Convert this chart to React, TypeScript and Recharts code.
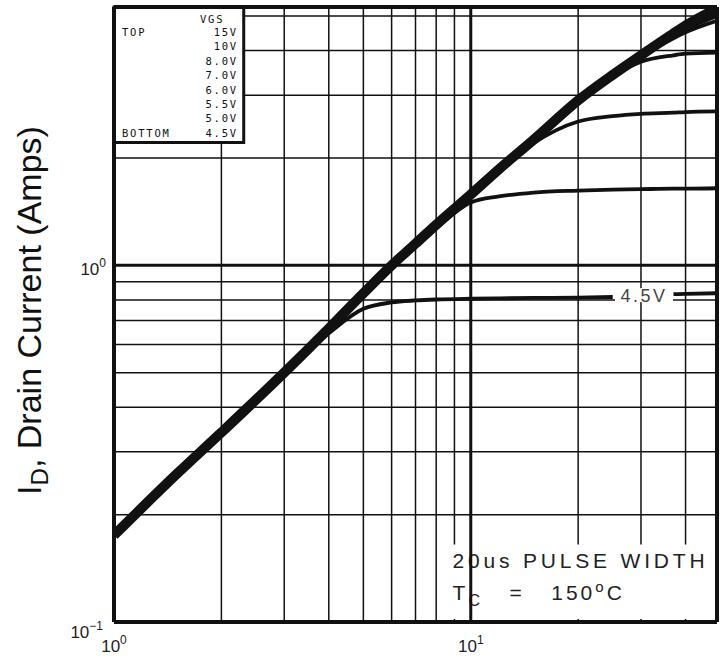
import { LineChart, Line, XAxis, YAxis, CartesianGrid, ReferenceArea, ReferenceLine, ReferenceDot } from 'recharts'

// drain-source voltage (V) where the curves were read
const vds = [1, 1.5, 2, 3, 4, 5, 6, 7, 8, 10, 12, 15, 20, 25, 30, 37, 40, 49]

// drain current (A) per gate voltage
const id15 = [0.175, 0.26, 0.34, 0.5, 0.665, 0.835, 1.0, 1.15, 1.3, 1.58, 1.86, 2.25, 2.9, 3.42, 3.88, 4.47, 4.7, 5.25]
const id10 = [0.175, 0.26, 0.34, 0.5, 0.665, 0.835, 1.0, 1.15, 1.3, 1.58, 1.86, 2.25, 2.9, 3.41, 3.87, 4.45, 4.66, 5.2]
const id8 = [0.175, 0.26, 0.34, 0.5, 0.665, 0.835, 1.0, 1.15, 1.3, 1.58, 1.86, 2.25, 2.89, 3.4, 3.86, 4.4, 4.58, 5.0]
const id7 = [0.175, 0.26, 0.34, 0.5, 0.665, 0.835, 1.0, 1.15, 1.3, 1.58, 1.86, 2.25, 2.88, 3.38, 3.83, 4.33, 4.5, 4.85]
const id6 = [0.175, 0.26, 0.34, 0.5, 0.665, 0.835, 1.0, 1.15, 1.3, 1.58, 1.86, 2.25, 2.88, 3.38, 3.72, 3.88, 3.92, 3.95]
const id55 = [0.175, 0.26, 0.34, 0.5, 0.665, 0.835, 1.0, 1.15, 1.3, 1.58, 1.85, 2.2, 2.53, 2.62, 2.66, 2.68, 2.69, 2.7]
const id5 = [0.175, 0.26, 0.34, 0.5, 0.665, 0.83, 0.99, 1.13, 1.27, 1.5, 1.56, 1.6, 1.62, 1.63, 1.635, 1.64, 1.64, 1.645]
// null where the "4.5V" label interrupts the curve
const id45 = [0.175, 0.26, 0.34, 0.5, 0.645, 0.755, 0.787, 0.797, 0.802, 0.806, 0.808, 0.81, 0.812, 0.815, null, 0.83, 0.832, 0.835]

const xTicks = [1, 2, 3, 4, 5, 6, 7, 8, 9, 10, 20, 30, 40]
const yTicks = [0.1, 0.2, 0.3, 0.4, 0.5, 0.6, 0.7, 0.8, 0.9, 1, 2, 3, 4, 5]
const xLabelled = [1, 10]
const yLabelled = [0.1, 1]

const legendRows = ['15V', '10V', '8.0V', '7.0V', '6.0V', '5.5V', '5.0V', '4.5V']

const data = vds.map((v, i) => ({
  vds: v,
  v15: id15[i],
  v10: id10[i],
  v8: id8[i],
  v7: id7[i],
  v6: id6[i],
  v55: id55[i],
  v5: id5[i],
  v45: id45[i],
}))

const ink = '#111'
const sans = '"Liberation Sans", Arial, sans-serif'
const mono = '"DejaVu Sans Mono", monospace'

const expOf = (v: number) => {
  const e = Math.round(Math.log10(v))
  return e < 0 ? '\u2212' + Math.abs(e) : String(e)
}

function XTick({ x, y, payload }: any) {
  if (!xLabelled.includes(payload.value)) return <g />
  return (
    <text x={x} y={y + 22} textAnchor="middle" fontFamily={sans} fontSize={17} fill="#222">
      10<tspan dy={-8} fontSize={12}>{expOf(payload.value)}</tspan>
    </text>
  )
}

function YTick({ x, y, payload }: any) {
  if (!yLabelled.includes(payload.value)) return <g />
  const low = payload.value < 1
  return (
    <text x={low ? x - 3 : x} y={low ? y + 16 : y + 10} textAnchor="end" fontFamily={sans} fontSize={17} fill="#222">
      10<tspan dy={-8} fontSize={12}>{expOf(payload.value)}</tspan>
    </text>
  )
}

function YTitle(props: any) {
  const vb = props.viewBox
  const cx = vb.x + 41
  const cy = vb.y + vb.height / 2 - 4
  return (
    <text transform={`rotate(-90, ${cx}, ${cy})`} x={cx} y={cy} textAnchor="middle" fontFamily={sans} fontSize={34} fill="#111">
      I<tspan fontSize={24} dy={7}>D</tspan>
      <tspan dy={-7}>, Drain Current (Amps)</tspan>
    </text>
  )
}

function LegendText(props: any) {
  const vb = props.viewBox
  const left = vb.x + 8
  const right = vb.x + 124
  const first = vb.y + 29
  const step = 14.4
  const common = { fontFamily: mono, fontSize: 10.5, fill: '#111', letterSpacing: 1.8 }
  return (
    <g>
      <text x={vb.x + 86} y={vb.y + 16} {...common}>VGS</text>
      <text x={left} y={first} {...common}>TOP</text>
      <text x={left} y={first + step * (legendRows.length - 1)} {...common}>BOTTOM</text>
      {legendRows.map((r, i) => (
        <text key={r} x={right} y={first + step * i} textAnchor="end" {...common}>{r}</text>
      ))}
    </g>
  )
}

function NoteText(props: any) {
  const vb = props.viewBox
  const x = vb.x + 7
  return (
    <g fontFamily={sans} fill="#222" fontSize={21}>
      <text x={x} y={vb.y + 24} textLength={252} lengthAdjust="spacing">20us PULSE WIDTH</text>
      <text x={x} y={vb.y + 56} letterSpacing={3} style={{ whiteSpace: 'pre' }}>
        T<tspan fontSize={16} dy={6}>C</tspan>
        <tspan dy={-6}>{'   =   150'}</tspan>
        <tspan fontSize={15} dy={-8}>o</tspan>
        <tspan dy={8}>C</tspan>
      </text>
    </g>
  )
}

function CurveTag(props: any) {
  const vb = props.viewBox
  const cx = vb.x + vb.width / 2 + 3
  const cy = vb.y + vb.height / 2
  return (
    <g>
      <rect x={cx - 29} y={cy - 7} width={58} height={14} fill="#fff" />
      <text x={cx} y={cy + 7} textAnchor="middle" fontFamily={sans} fontSize={18} letterSpacing={2.5} fill="#444">
        4.5V
      </text>
    </g>
  )
}

export default function App() {
  const thin = 3.8
  return (
    <div style={{ position: 'absolute', left: 0, top: 0, background: '#fff' }}>
      <LineChart width={725} height={658} data={data} margin={{ top: 7, right: 8, bottom: 0, left: 0 }}>
        <CartesianGrid stroke={ink} strokeWidth={1.5} />
        <XAxis
          dataKey="vds"
          type="number"
          scale="log"
          domain={[1, 49]}
          allowDataOverflow
          ticks={xTicks}
          interval={0}
          height={36}
          tickLine={false}
          axisLine={{ stroke: ink, strokeWidth: 4 }}
          tick={<XTick />}
        />
        <YAxis
          type="number"
          scale="log"
          domain={[0.1, 5.3]}
          allowDataOverflow
          ticks={yTicks}
          interval={0}
          width={114}
          tickLine={false}
          axisLine={{ stroke: ink, strokeWidth: 4 }}
          tick={<YTick />}
          label={YTitle}
        />
        <ReferenceLine y={1} stroke={ink} strokeWidth={3} />
        <ReferenceLine x={10} stroke={ink} strokeWidth={3} />
        <ReferenceArea x1={1} x2={2.31} y1={2.21} y2={5.3} fill="#fff" fillOpacity={1} stroke={ink} strokeWidth={3} label={LegendText} />
        <ReferenceArea x1={8.5} x2={48.6} y1={0.102} y2={0.165} fill="#fff" fillOpacity={1} stroke="none" label={NoteText} />
        <ReferenceLine y={5.3} stroke={ink} strokeWidth={4} />
        <ReferenceLine x={49} stroke={ink} strokeWidth={4} />

        <Line dataKey="v45" type="monotone" stroke={ink} strokeWidth={thin} dot={false} isAnimationActive={false} />
        <Line dataKey="v5" type="monotone" stroke={ink} strokeWidth={thin} dot={false} isAnimationActive={false} />
        <Line dataKey="v55" type="monotone" stroke={ink} strokeWidth={thin} dot={false} isAnimationActive={false} />
        <Line dataKey="v6" type="monotone" stroke={ink} strokeWidth={thin} dot={false} isAnimationActive={false} />
        <Line dataKey="v7" type="monotone" stroke={ink} strokeWidth={thin} dot={false} isAnimationActive={false} />
        <Line dataKey="v8" type="monotone" stroke={ink} strokeWidth={thin} dot={false} isAnimationActive={false} />
        <Line dataKey="v10" type="monotone" stroke={ink} strokeWidth={thin} dot={false} isAnimationActive={false} />
        <Line dataKey="v15" type="monotone" stroke={ink} strokeWidth={10} dot={false} isAnimationActive={false} />

        <ReferenceDot x={30} y={0.825} r={0} fill="none" stroke="none" label={CurveTag} />
      </LineChart>
    </div>
  )
}
